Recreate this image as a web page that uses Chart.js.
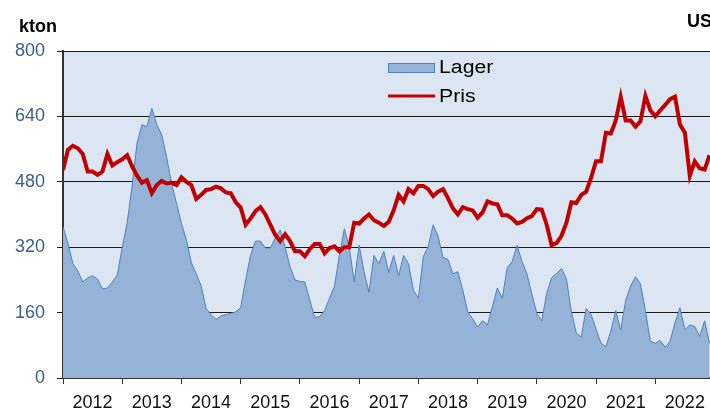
<!DOCTYPE html>
<html lang="no">
<head>
    <meta charset="UTF-8">
    <title>Lager og pris</title>
    <style>
        html, body { margin: 0; padding: 0; background: #fff; }
        .wrap { width: 710px; height: 411px; }
    </style>
</head>
<body>
    <div class="wrap"><canvas id="mychart"></canvas></div>

    <script src="https://cdnjs.cloudflare.com/ajax/libs/Chart.js/4.4.1/chart.umd.min.js"></script>
    <script>
        // data, monthly from Jan 2012 (kton, price read on the kton scale)
        const startYear = 2012;
        const years = [2012, 2013, 2014, 2015, 2016, 2017, 2018, 2019, 2020, 2021, 2022];
        const yTicks = [0, 160, 320, 480, 640, 800];

        const lager = [
            370, 330, 280, 262, 235, 245, 250, 242, 218, 220, 235, 252,
            320, 380, 470, 575, 620, 615, 660, 620, 595, 540, 476, 427,
            378, 338, 282, 255, 225, 170, 155, 143, 152, 155, 158, 162,
            172, 240, 300, 335, 335, 318, 318, 342, 362, 320, 272, 240,
            236, 235, 191, 148, 150, 165, 195, 225, 300, 365, 320, 235,
            325, 260, 210, 300, 280, 310, 258, 300, 250, 300, 280, 215,
            195, 297, 322, 375, 346, 295, 290, 255, 260, 215, 162, 145,
            125, 140, 130, 175, 220, 195, 270, 285, 325, 285, 255, 205,
            158, 140, 207, 245, 256, 268, 242, 162, 110, 100, 170, 155,
            120, 85, 77, 115, 165, 117, 190, 225, 248, 230, 165, 90,
            85, 92, 75, 90, 135, 172, 118, 130, 126, 102, 140, 85
        ];
        const pris = [
            509, 558, 568, 562, 548, 505, 505, 497, 505, 548, 520, 528,
            535, 545, 518, 495, 478, 484, 452, 472, 482, 476, 478, 472,
            491, 480, 472, 438, 448, 460, 462, 468, 464, 454, 452, 430,
            417, 375, 390, 408, 418, 400, 375, 350, 335, 352, 335, 310,
            310, 298, 315, 328, 328, 305, 318, 322, 310, 320, 320, 380,
            378, 390, 400, 386, 380, 372, 382, 410, 448, 432, 462, 452,
            470, 470, 462, 445, 456, 462, 440, 415, 400, 418, 413, 410,
            392, 405, 432, 427, 425, 398, 398, 390, 378, 382, 391, 396,
            413, 412, 375, 325, 330, 348, 380, 430, 428, 448, 456, 490,
            530, 530, 600, 598, 630, 688, 630, 630, 615, 628, 690, 655,
            640, 655, 668, 682, 688, 620, 600, 495, 530, 513, 510, 545
        ];
        const months = lager.map((v, i) => startYear + i / 12);

        const plotBg = {
            id: 'plotBg',
            beforeDraw(chart) {
                const { ctx, chartArea: a } = chart;
                ctx.save();
                ctx.fillStyle = '#dce6f2';
                ctx.fillRect(a.left, a.top, a.right - a.left, a.bottom - a.top);
                ctx.restore();
            }
        };

        // unit titles and legend drawn on top
        const extras = {
            id: 'extras',
            afterDraw(chart) {
                const ctx = chart.ctx;
                ctx.save();
                ctx.fillStyle = '#000';
                ctx.font = 'bold 18px "Liberation Sans", Arial';
                ctx.textBaseline = 'alphabetic';
                ctx.textAlign = 'left';
                ctx.fillText('kton', 19, 32);
                ctx.fillText('USD/ton', 687, 27);

                // legend
                const ds = chart.data.datasets;
                ctx.fillStyle = ds[0].backgroundColor;
                ctx.fillRect(388, 63, 47, 10);
                ctx.strokeStyle = ds[0].borderColor;
                ctx.lineWidth = 1;
                ctx.strokeRect(388.5, 63.5, 46, 9);
                ctx.strokeStyle = ds[1].borderColor;
                ctx.lineWidth = 3;
                ctx.beginPath();
                ctx.moveTo(388, 96);
                ctx.lineTo(435, 96);
                ctx.stroke();

                ctx.fillStyle = '#000';
                ctx.font = '18px "Liberation Sans", Arial';
                ctx.textBaseline = 'middle';
                ctx.translate(439, 0);
                ctx.scale(1.18, 1);
                ctx.fillText(ds[0].label, 0, 68);
                ctx.fillText(ds[1].label, 0, 97);
                ctx.restore();
            }
        };

        Chart.defaults.font.family = '"Liberation Sans", Arial, sans-serif';

        new Chart(document.getElementById('mychart'), {
            type: 'line',
            data: {
                labels: months,
                datasets: [
                    {
                        label: 'Lager',
                        data: lager,
                        fill: 'origin',
                        backgroundColor: '#95b3d7',
                        borderColor: '#4f81bd',
                        borderWidth: 1,
                        pointRadius: 0,
                        order: 1
                    },
                    {
                        label: 'Pris',
                        data: pris,
                        fill: false,
                        borderColor: '#c00000',
                        borderWidth: 4,
                        pointRadius: 0,
                        order: 0
                    }
                ]
            },
            options: {
                responsive: true,
                maintainAspectRatio: false,
                animation: false,
                layout: { padding: { top: 51, right: 0, left: 0, bottom: 0 } },
                plugins: {
                    legend: { display: false },
                    tooltip: { enabled: false }
                },
                scales: {
                    x: {
                        type: 'linear',
                        min: startYear,
                        max: 2022.924,
                        afterBuildTicks: (scale) => { scale.ticks = years.map(v => ({ value: v })); },
                        afterFit: (scale) => { scale.height = 33; },
                        grid: { drawOnChartArea: false, drawTicks: true, tickLength: 6, color: '#333' },
                        border: { color: '#333', width: 2 },
                        ticks: {
                            autoSkip: false,
                            maxRotation: 0,
                            labelOffset: 29.6,
                            padding: 8,
                            color: '#111',
                            font: { size: 18 },
                            callback: (v) => String(v)
                        }
                    },
                    y: {
                        min: 0,
                        max: 800,
                        afterBuildTicks: (scale) => { scale.ticks = yTicks.map(v => ({ value: v })); },
                        afterFit: (scale) => { scale.width = 63; },
                        grid: { color: '#1a1a1a', lineWidth: 1, drawTicks: true, tickLength: 6 },
                        border: { color: '#333', width: 2 },
                        ticks: {
                            padding: 12,
                            color: '#37608f',
                            font: { size: 18 }
                        }
                    }
                }
            },
            plugins: [plotBg, extras]
        });
    </script>
</body>
</html>
